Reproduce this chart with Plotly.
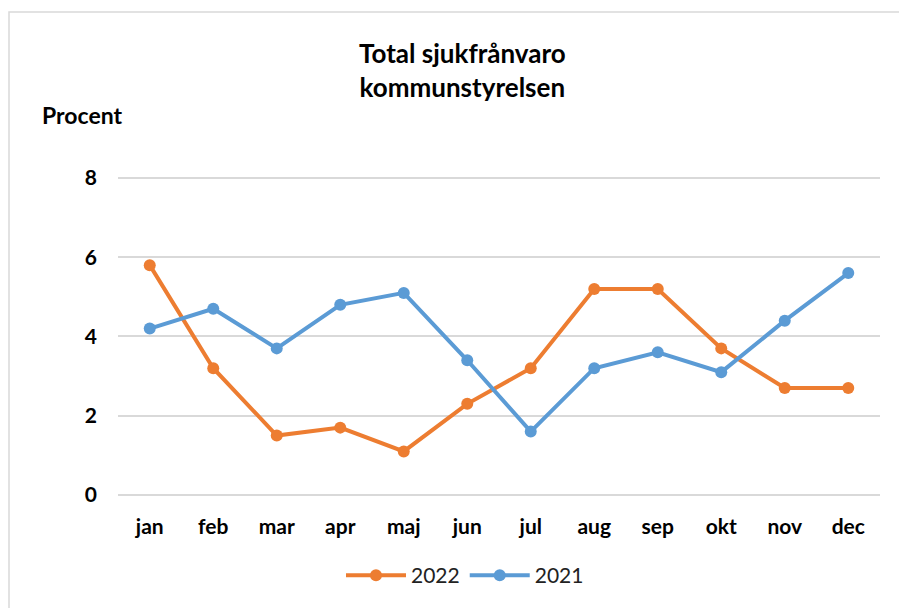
import plotly.graph_objects as go

months = ["jan", "feb", "mar", "apr", "maj", "jun", "jul", "aug", "sep", "okt", "nov", "dec"]
values_2022 = [5.8, 3.2, 1.5, 1.7, 1.1, 2.3, 3.2, 5.2, 5.2, 3.7, 2.7, 2.7]
values_2021 = [4.2, 4.7, 3.7, 4.8, 5.1, 3.4, 1.6, 3.2, 3.6, 3.1, 4.4, 5.6]
y_ticks = [0, 2, 4, 6, 8]

FONT = "Lato"
OFF = 8  # page body margin
YTOP = 8.05
W, H = 907 - OFF, 608 - OFF
L = 118 - OFF
R = W - (880 - OFF)
B = H - (497 - OFF)
T = (178 - OFF) - round((YTOP - 8) * (497 - 178) / 8)
PW, PH = W - L - R, H - T - B

def px(x):
    return (x - OFF - L) / PW

def py(y):
    return (H - B - (y - OFF)) / PH

fig = go.Figure()
fig.add_trace(go.Scatter(x=months, y=values_2022, name="2022", mode="lines+markers",
                         line=dict(color="#ED7D31", width=4), marker=dict(size=12, color="#ED7D31")))
fig.add_trace(go.Scatter(x=months, y=values_2021, name="2021", mode="lines+markers",
                         line=dict(color="#5B9BD5", width=4), marker=dict(size=12, color="#5B9BD5")))

fig.update_layout(
    width=W, height=H,
    margin=dict(l=L, r=R, t=T, b=B),
    paper_bgcolor="white", plot_bgcolor="white",
    font=dict(family=FONT, color="#000000"),
    showlegend=True,
    legend=dict(orientation="h", x=px(465), y=py(578), xanchor="center", yanchor="middle",
                font=dict(size=21, family=FONT, color="#222222"), itemwidth=60),
    xaxis=dict(type="category", showgrid=False, showline=False, zeroline=False, ticks="",
               tickfont=dict(size=21, family=FONT, color="#000000", weight="bold"),
               range=[-0.5, 11.5], ticklabelstandoff=17),
    yaxis=dict(range=[0, YTOP], tickvals=y_ticks, showgrid=True, gridcolor="#D9D9D9", gridwidth=1.5,
               zeroline=True, zerolinecolor="#D9D9D9", zerolinewidth=1.5, showline=False, ticks="",
               tickfont=dict(size=21, family=FONT, color="#000000", weight="bold"),
               ticklabelstandoff=20),
    annotations=[
        dict(text="<b>Total sjukfrånvaro<br>kommunstyrelsen</b>", xref="paper", yref="paper",
             x=px(462), y=py(69), xanchor="center", yanchor="middle", showarrow=False,
             font=dict(size=26, family=FONT, color="#000000")),
        dict(text="<b>Procent</b>", xref="paper", yref="paper",
             x=px(40), y=py(115), xanchor="left", yanchor="middle", showarrow=False,
             font=dict(size=23, family=FONT, color="#000000")),
    ],
    shapes=[
        dict(type="rect", xref="paper", yref="paper", x0=px(9), y0=py(640), x1=px(940), y1=py(11),
             line=dict(color="#D9D9D9", width=1.5), layer="below"),
    ],
)

fig.write_html("out.html")
